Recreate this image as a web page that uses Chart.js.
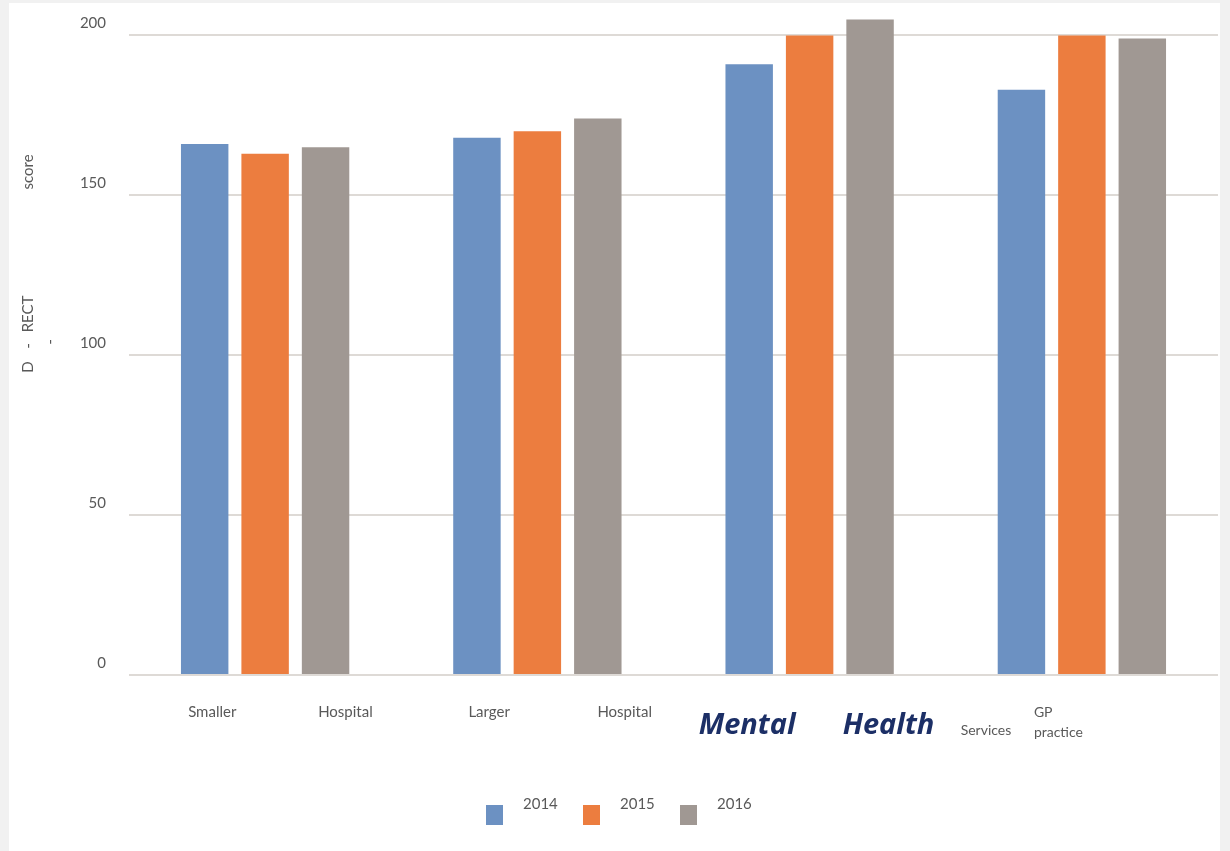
<!DOCTYPE html>
<html><head><meta charset="utf-8">
<script src="https://cdn.jsdelivr.net/npm/chart.js@4"></script>
<style>
html,body{margin:0;padding:0;background:#f1f1f1;width:1230px;height:851px;overflow:hidden}
#panel{position:absolute;left:9px;top:3px;width:1211px;height:848px;background:#fff}
#wrap{position:absolute;left:0;top:0;width:1230px;height:851px}
</style></head><body>
<div id="panel"></div>
<div id="wrap"><canvas id="c" width="1230" height="851"></canvas></div>
<script>
// ---- data ----
const categories = ['Smaller Hospital', 'Larger Hospital', 'Mental Health Services', 'GP practice'];
const seriesLabels = ['2014', '2015', '2016'];
const values2014 = [166, 168, 191, 183];
const values2015 = [163, 170, 200, 200];
const values2016 = [165, 174, 205, 199];
const yTickValues = [0, 50, 100, 150, 200];
const yTitle = 'D - RECT score';

const colors = ['#6c91c2', '#ec7d3f', '#a09893'];
const textGray = '#595959';
const navy = '#1c2f66';

// x-label word placement (offsets from category centre)
const wordLayout = [
  [{dx: -77, y: 717}, {dx: 53, y: 717}],
  [{dx: -69, y: 717}, {dx: 60, y: 717}],
  [{dx: -111, y: 734, big: true}, {dx: 33, y: 734, big: true}, {dx: 151, y: 735, small: true}],
  [{dx: -48, y: 717, small: true}, {dx: -48, y: 737, small: true}]
];

const customText = {
  id: 'customText',
  afterDraw(chart) {
    const ctx = chart.ctx;
    const xs = chart.scales.x;
    ctx.save();
    // category labels
    categories.forEach((cat, i) => {
      const words = cat.split(' ');
      const cx = xs.getPixelForValue(i);
      wordLayout[i].forEach((lay, j) => {
        if (lay.big) {
          ctx.font = 'italic bold 29px "Open Sans"';
          ctx.fillStyle = navy;
        } else if (lay.small) {
          ctx.font = '14px Lato';
          ctx.fillStyle = textGray;
        } else {
          ctx.font = '15px Lato';
          ctx.fillStyle = textGray;
        }
        ctx.textAlign = 'left';
        ctx.textBaseline = 'alphabetic';
        ctx.fillText(words[j], cx + lay.dx, lay.y);
      });
    });
    // y axis title (rotated pieces)
    const parts = yTitle.split(' '); // D, -, RECT, score
    const pieces = [
      {t: parts[0], x: 28, y: 367},
      {t: parts[1], x: 28, y: 346},
      {t: parts[2], x: 28, y: 314},
      {t: parts[3], x: 28, y: 172},
      {t: parts[1], x: 50, y: 342}
    ];
    ctx.font = '15px Lato';
    ctx.fillStyle = textGray;
    pieces.forEach(p => {
      ctx.save();
      ctx.translate(p.x, p.y);
      ctx.rotate(-Math.PI / 2);
      ctx.textAlign = 'center';
      ctx.textBaseline = 'middle';
      ctx.fillText(p.t, 0, 0);
      ctx.restore();
    });
    // legend
    const startX = chart.width / 2 - 129;
    chart.data.datasets.forEach((ds, i) => {
      const bx = startX + i * 97;
      ctx.fillStyle = ds.backgroundColor;
      ctx.fillRect(bx, 805, 17, 20);
      ctx.fillStyle = textGray;
      ctx.font = '15px Lato';
      ctx.textAlign = 'left';
      ctx.textBaseline = 'alphabetic';
      ctx.fillText(ds.label, bx + 37, 809);
    });
    ctx.restore();
  }
};

const seriesValues = [values2014, values2015, values2016];

new Chart(document.getElementById('c'), {
  type: 'bar',
  data: {
    labels: categories,
    datasets: seriesLabels.map((lab, i) => ({
      label: lab,
      data: seriesValues[i],
      backgroundColor: colors[i],
      borderWidth: 0,
      categoryPercentage: 0.666,
      barPercentage: 0.785
    }))
  },
  options: {
    responsive: false,
    animation: false,
    devicePixelRatio: 1,
    layout: {padding: {left: 0, top: 13, right: 12, bottom: 176}},
    plugins: {legend: {display: false}, tooltip: {enabled: false}},
    scales: {
      x: {
        display: false
      },
      y: {
        min: 0,
        max: 207,
        afterBuildTicks(scale) {
          scale.ticks = yTickValues.map(v => ({value: v}));
        },
        afterFit(scale) { scale.width = 129; },
        border: {display: false},
        grid: {color: '#dedad6', lineWidth: 2, drawTicks: true, tickLength: 23, tickColor: 'rgba(0,0,0,0)'},
        ticks: {
          padding: 0,
          labelOffset: -12,
          color: textGray,
          font: {family: 'Lato', size: 15}
        }
      }
    }
  },
  plugins: [customText]
});
</script>
</body></html>
